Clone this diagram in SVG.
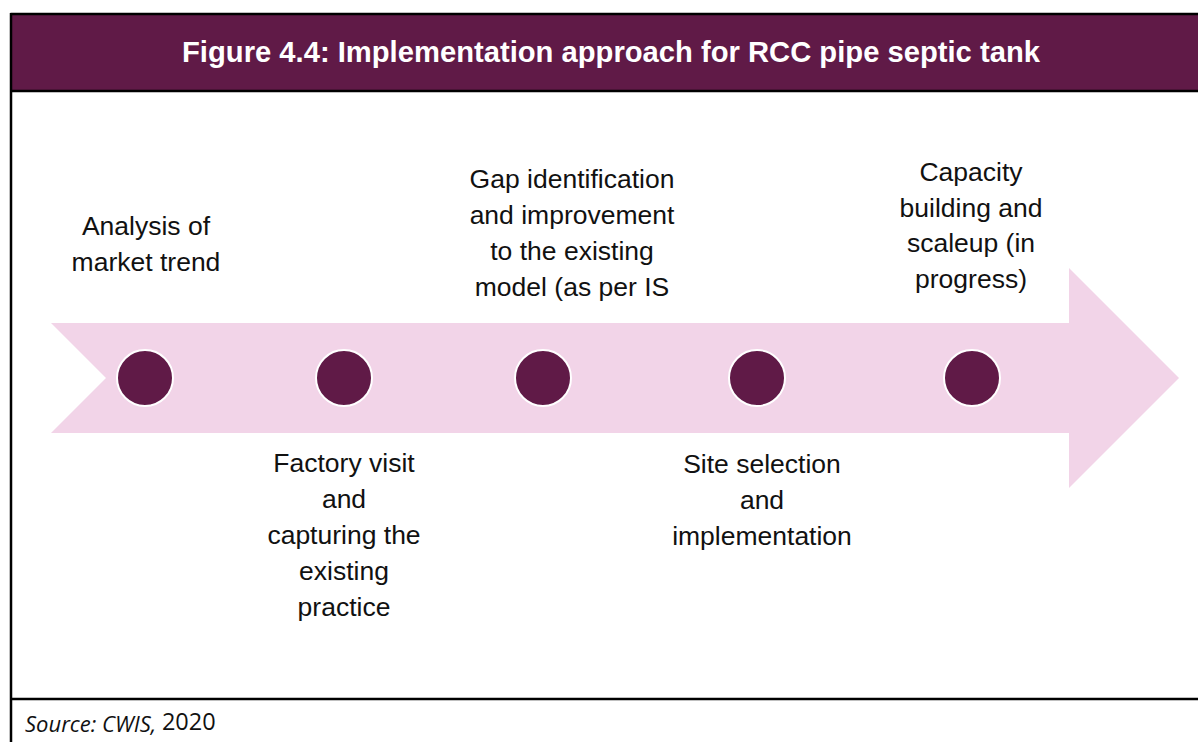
<svg xmlns="http://www.w3.org/2000/svg" width="1198" height="742" viewBox="0 0 1198 742">
<style>
.lbl{font-family:"Liberation Sans",Arial,sans-serif;font-size:26.5px;fill:#111;text-anchor:middle}
.dot{fill:#601a47;stroke:#fff;stroke-width:2}
.frame{stroke:#000;stroke-width:2.5;fill:none}
</style>
<rect x="0" y="0" width="1198" height="742" fill="#fff"/>
<g id="frame">
<rect x="12" y="14" width="1200" height="77" fill="#601a47"/>
<line class="frame" x1="10.5" y1="14" x2="1198" y2="14"/>
<line class="frame" x1="11" y1="91" x2="1198" y2="91"/>
<line class="frame" x1="11" y1="699" x2="1198" y2="699"/>
<line class="frame" x1="11" y1="13" x2="11" y2="742"/>
<text x="611" y="62" text-anchor="middle" font-family="Liberation Sans,Arial,sans-serif" font-weight="bold" font-size="29.2" fill="#fff">Figure 4.4: Implementation approach for RCC pipe septic tank</text>
</g>
<g id="connectors">
<polygon points="51,323 1069,323 1069,268 1179,378 1069,488 1069,433 51,433 106,378" fill="#f2d4e8"/>
</g>
<g id="n1"><circle class="dot" cx="145" cy="378" r="28"/>
<text class="lbl"><tspan x="146" y="235">Analysis of</tspan><tspan x="146" y="271">market trend</tspan></text></g>
<g id="n2"><circle class="dot" cx="344" cy="378" r="28"/>
<text class="lbl"><tspan x="344" y="472">Factory visit</tspan><tspan x="344" y="508">and</tspan><tspan x="344" y="544">capturing the</tspan><tspan x="344" y="580">existing</tspan><tspan x="344" y="616">practice</tspan></text></g>
<g id="n3"><circle class="dot" cx="543" cy="378" r="28"/>
<text class="lbl"><tspan x="572" y="188">Gap identification</tspan><tspan x="572" y="224">and improvement</tspan><tspan x="572" y="260">to the existing</tspan><tspan x="572" y="296">model (as per IS</tspan></text></g>
<g id="n4"><circle class="dot" cx="757" cy="378" r="28"/>
<text class="lbl"><tspan x="762" y="473">Site selection</tspan><tspan x="762" y="509">and</tspan><tspan x="762" y="545">implementation</tspan></text></g>
<g id="n5"><circle class="dot" cx="972" cy="378" r="28"/>
<text class="lbl"><tspan x="971" y="181">Capacity</tspan><tspan x="971" y="217">building and</tspan><tspan x="971" y="252">scaleup (in</tspan><tspan x="971" y="288">progress)</tspan></text></g>
<g id="source">
<text x="25" y="732" font-family="Open Sans,Liberation Sans,sans-serif" font-size="22" fill="#111"><tspan font-style="italic">Source: CWIS, </tspan><tspan font-size="23.5" dy="-2">2020</tspan></text>
</g>
</svg>
